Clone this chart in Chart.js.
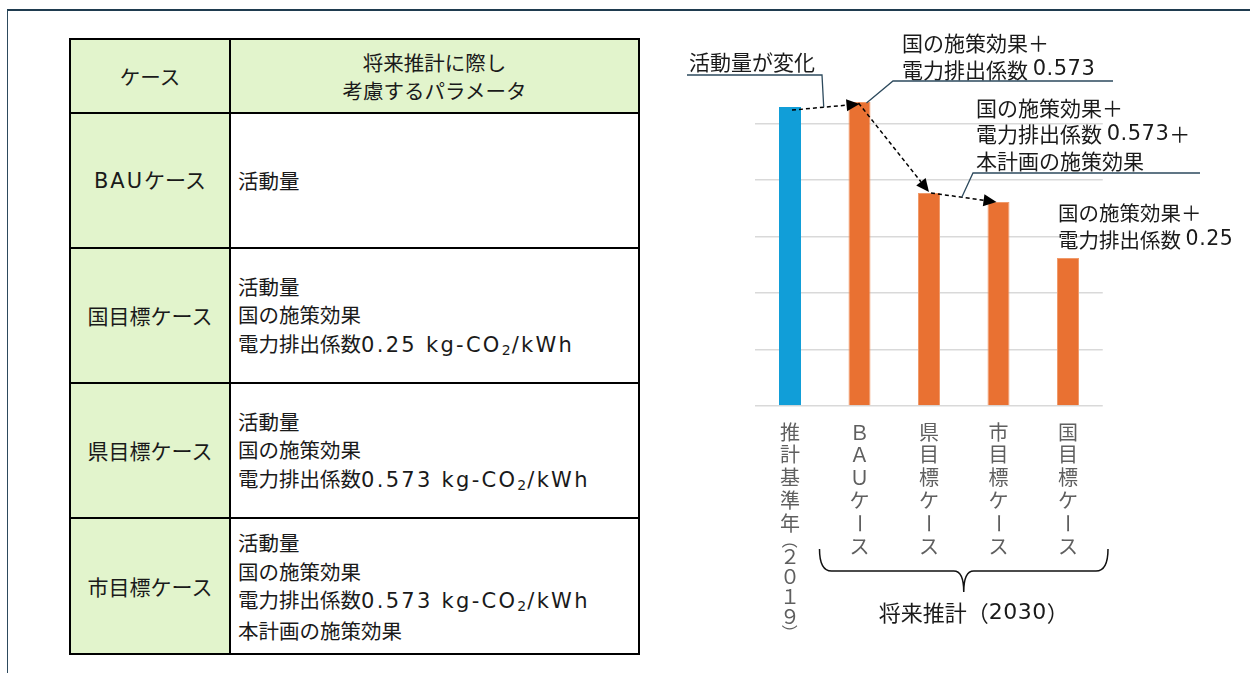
<!DOCTYPE html>
<html lang="ja">
<head>
<meta charset="utf-8">
<title>将来推計のケース</title>
<script src="https://cdn.jsdelivr.net/npm/chart.js@4.4.1/dist/chart.umd.min.js"></script>
<style>
  html, body { margin: 0; padding: 0; background: #fff; }
  body {
    width: 1250px; height: 673px; position: relative; overflow: hidden;
    font-family: "Noto Sans CJK JP", sans-serif; color: #1a1a1a;
  }
  .frame {
    position: absolute; left: 7px; top: 9px; width: 1300px; height: 700px;
    border-top: 2px solid #1f3b4f; border-left: 1.5px solid #2d4a5d;
  }
  table.cases {
    position: absolute; left: 69px; top: 38px; width: 571px;
    border-collapse: collapse; table-layout: fixed;
    font-size: 20.5px; line-height: 28.5px;
  }
  table.cases th, table.cases td {
    border: 2.5px solid #000; padding: 0; vertical-align: middle; font-weight: normal;
  }
  table.cases th { background: #e2f4cc; text-align: center; }
  table.cases td.case { background: #e2f4cc; text-align: center; font-size: 21px; }
  table.cases td.param { padding-left: 7px; }
  .lat { font-family: "DejaVu Sans", sans-serif; font-size: 21px; letter-spacing: 2.3px; }
  .bau { font-family: "DejaVu Sans", sans-serif; font-size: 21px; letter-spacing: 2px; }
  sub { font-family: "DejaVu Sans", sans-serif; font-size: 14px; line-height: 0; vertical-align: -3px; letter-spacing: 1px; }
  #chart { position: absolute; left: 660px; top: 0; }
</style>
</head>
<body>
<div class="frame"></div>

<table class="cases">
  <colgroup><col style="width:160px"><col></colgroup>
  <tr style="height:74px">
    <th>ケース</th>
    <th>将来推計に際し<br>考慮するパラメータ</th>
  </tr>
  <tr style="height:135px">
    <td class="case"><span class="bau">BAU</span>ケース</td>
    <td class="param">活動量</td>
  </tr>
  <tr style="height:135px">
    <td class="case">国目標ケース</td>
    <td class="param">活動量<br>国の施策効果<br>電力排出係数<span class="lat">0.25 kg-CO</span><sub>2</sub><span class="lat">/kWh</span></td>
  </tr>
  <tr style="height:135px">
    <td class="case">県目標ケース</td>
    <td class="param">活動量<br>国の施策効果<br>電力排出係数<span class="lat">0.573 kg-CO</span><sub>2</sub><span class="lat">/kWh</span></td>
  </tr>
  <tr style="height:136px">
    <td class="case">市目標ケース</td>
    <td class="param">活動量<br>国の施策効果<br>電力排出係数<span class="lat">0.573 kg-CO</span><sub>2</sub><span class="lat">/kWh</span><br>本計画の施策効果</td>
  </tr>
</table>

<canvas id="chart" width="590" height="673"></canvas>

<script>
// 排出量の推計（目盛りなし、基準年と2030年の各ケース）
const categories = ['推計基準年（２０１９）', 'ＢＡＵケース', '県目標ケース', '市目標ケース', '国目標ケース'];
const values = [5.29, 5.38, 3.77, 3.61, 2.62];
const barColors = ['#119ed8', '#e97132', '#e97132', '#e97132', '#e97132'];

// 吹き出しの文言
const noteChange = ['活動量が変化'];
const noteBau = ['国の施策効果＋', '電力排出係数 0.573'];
const noteCity = ['国の施策効果＋', '電力排出係数 0.573＋', '本計画の施策効果'];
const noteNation = ['国の施策効果＋', '電力排出係数 0.25'];
const groupLabel = '将来推計（2030）';

const FONT = '"Noto Sans CJK JP", sans-serif';
const LATIN = '"DejaVu Sans", sans-serif';

// 英数字は幅の広い欧文フォントで描く
function drawMixed(ctx, text, x, y, size) {
    let cx = x;
    for (const part of text.split(/([\x21-\x7e][\x20-\x7e]*)/)) {
        if (!part) continue;
        const latin = /^[\x21-\x7e]/.test(part);
        ctx.font = size + 'px ' + (latin ? LATIN : FONT);
        ctx.letterSpacing = latin ? '0.5px' : '0px';
        ctx.fillText(part, cx, y);
        cx += ctx.measureText(part).width;
    }
    ctx.letterSpacing = '0px';
    return cx - x;
}

function drawLines(ctx, lines, x, y, lh, size) {
    lines.forEach((t, i) => drawMixed(ctx, t, x, y + i * lh, size));
}

function dashedArrow(ctx, a, b) {
    const ang = Math.atan2(b.y - a.y, b.x - a.x);
    const len = 13, half = 6;
    const bx = b.x - Math.cos(ang) * len, by = b.y - Math.sin(ang) * len;
    ctx.save();
    ctx.strokeStyle = '#000';
    ctx.lineWidth = 1.5;
    ctx.setLineDash([4, 3]);
    ctx.beginPath();
    ctx.moveTo(a.x, a.y);
    ctx.lineTo(bx, by);
    ctx.stroke();
    ctx.setLineDash([]);
    ctx.fillStyle = '#000';
    ctx.beginPath();
    ctx.moveTo(b.x, b.y);
    ctx.lineTo(bx - Math.sin(ang) * half, by + Math.cos(ang) * half);
    ctx.lineTo(bx + Math.sin(ang) * half, by - Math.cos(ang) * half);
    ctx.closePath();
    ctx.fill();
    ctx.restore();
}

function leader(ctx, pts) {
    ctx.save();
    ctx.strokeStyle = '#2d4a5d';
    ctx.lineWidth = 1.3;
    ctx.beginPath();
    pts.forEach((p, i) => i ? ctx.lineTo(p.x, p.y) : ctx.moveTo(p.x, p.y));
    ctx.stroke();
    ctx.restore();
}

const along = (a, b, t) => ({ x: a.x + (b.x - a.x) * t, y: a.y + (b.y - a.y) * t });

const annotations = {
    id: 'annotations',
    afterDraw(chart) {
        const { ctx, chartArea, scales: { x, y } } = chart;
        const top = (i, dx = 0, dy = 0) => ({ x: x.getPixelForValue(i) + dx, y: y.getPixelForValue(values[i]) + dy });

        // 縦書きの項目名（括弧は小さく、数字は詰める）
        ctx.save();
        ctx.font = '20px ' + FONT;
        ctx.fillStyle = '#5f5f5f';
        ctx.textAlign = 'center';
        ctx.textBaseline = 'middle';
        categories.forEach((label, i) => {
            const cx = x.getPixelForValue(i);
            let cy = chartArea.bottom + 26 - 11.4;
            for (const ch of label) {
                const paren = '（）'.includes(ch);
                const adv = paren ? 12 : /[０-９]/.test(ch) ? 20 : 22.8;
                const py = cy + adv / 2;
                if (paren || ch === 'ー') {
                    ctx.save();
                    ctx.translate(cx, py);
                    ctx.rotate(Math.PI / 2);
                    if (paren) ctx.scale(0.8, 0.8);
                    ctx.fillText(ch, 0, 0);
                    ctx.restore();
                } else {
                    ctx.fillText(ch, cx, py);
                }
                cy += adv;
            }
        });
        ctx.restore();

        // 矢印
        const a1 = [top(0, 2, 3), top(1, 0, 2)];
        const a2 = [top(1, -1, 1), top(2, 0, -1)];
        const a3 = [top(2, 2, 0), top(3, -2, 0)];
        dashedArrow(ctx, ...a1);
        dashedArrow(ctx, ...a2);
        dashedArrow(ctx, ...a3);

        // 吹き出し
        ctx.save();
        ctx.fillStyle = '#1a1a1a';
        ctx.textBaseline = 'middle';
        drawLines(ctx, noteChange, 29, 62, 27, 21);
        drawLines(ctx, noteBau, 242, 43, 27, 21);
        drawLines(ctx, noteCity, 316, 108, 26.5, 21);
        drawLines(ctx, noteNation, 398, 213, 27, 20.5);
        ctx.restore();

        leader(ctx, [{ x: 27, y: 75 }, { x: 162, y: 75 }, along(a1[0], a1[1], 0.47)]);
        leader(ctx, [{ x: 453, y: 81 }, { x: 233, y: 81 }, top(1, 7, 1)]);
        leader(ctx, [{ x: 540, y: 173 }, { x: 313, y: 173 }, along(a3[0], a3[1], 0.47)]);

        // 将来推計の括弧
        const xL = x.getPixelForValue(1) - 40, xR = x.getPixelForValue(4) + 40;
        const cx = (xL + xR) / 2, yT = 549, yH = 571, yP = 592;
        ctx.save();
        ctx.strokeStyle = '#111';
        ctx.lineWidth = 1.5;
        ctx.beginPath();
        ctx.moveTo(xL, yT);
        ctx.quadraticCurveTo(xL, yH, xL + 12, yH);
        ctx.lineTo(cx - 10, yH);
        ctx.quadraticCurveTo(cx, yH, cx, yP);
        ctx.quadraticCurveTo(cx, yH, cx + 10, yH);
        ctx.lineTo(xR - 12, yH);
        ctx.quadraticCurveTo(xR, yH, xR, yT);
        ctx.stroke();
        ctx.fillStyle = '#1a1a1a';
        ctx.textBaseline = 'middle';
        // 幅を測るため一度透明で描く
        ctx.globalAlpha = 0;
        const w = drawMixed(ctx, groupLabel, 0, -100, 22);
        ctx.globalAlpha = 1;
        drawMixed(ctx, groupLabel, cx + 10 - w / 2, 613, 22);
        ctx.restore();
    }
};

new Chart(document.getElementById('chart').getContext('2d'), {
    type: 'bar',
    data: {
        labels: categories,
        datasets: [{
            data: values,
            backgroundColor: barColors,
            borderColor: barColors.map(c => c === '#e97132' ? '#f09a6a' : c),
            borderWidth: 1,
            categoryPercentage: 1,
            barPercentage: 0.3165
        }]
    },
    options: {
        responsive: false,
        animation: false,
        devicePixelRatio: 1,
        layout: { padding: { left: 95.25, right: 147.25, top: 67, bottom: 0 } },
        plugins: { legend: { display: false }, tooltip: { enabled: false } },
        scales: {
            x: {
                grid: { display: false, drawTicks: false },
                border: { display: false },
                ticks: { display: false },
                afterFit(s) { s.height = 267; }
            },
            y: {
                min: 0, max: 6,
                ticks: { display: false, stepSize: 1 },
                border: { display: false },
                grid: {
                    drawTicks: false,
                    lineWidth: 1.5,
                    color: c => c.tick && c.tick.value === 6 ? 'rgba(0,0,0,0)' : '#d9d9d9'
                },
                afterFit(s) { s.width = 0; }
            }
        }
    },
    plugins: [annotations]
});
</script>
</body>
</html>
